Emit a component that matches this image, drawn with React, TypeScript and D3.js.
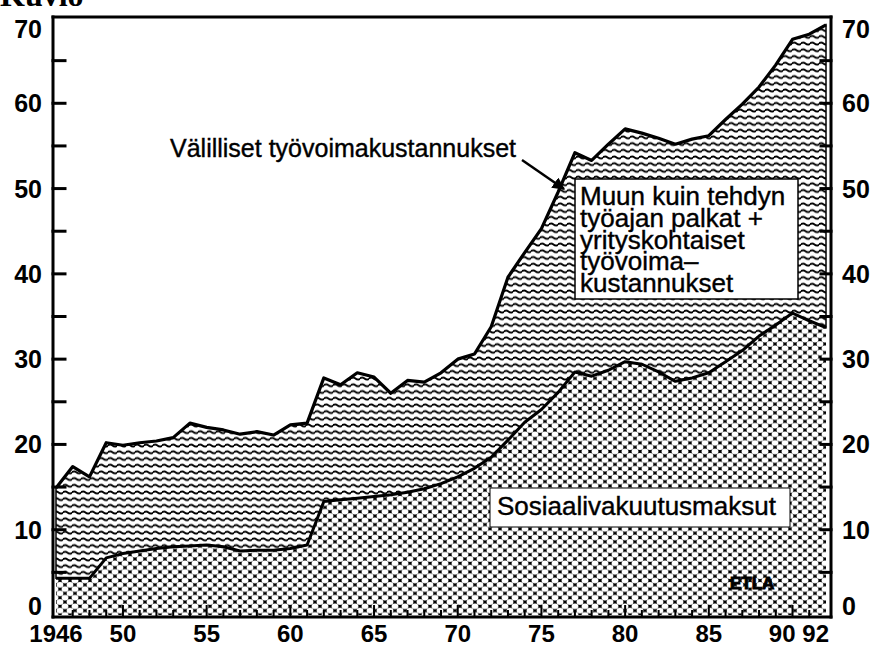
import { useEffect, useRef } from 'react';
import * as d3 from 'd3';

// Years on the x axis
const years = [
  1946, 1947, 1948, 1949, 1950, 1951, 1952, 1953, 1954, 1955,
  1956, 1957, 1958, 1959, 1960, 1961, 1962, 1963, 1964, 1965,
  1966, 1967, 1968, 1969, 1970, 1971, 1972, 1973, 1974, 1975,
  1976, 1977, 1978, 1979, 1980, 1981, 1982, 1983, 1984, 1985,
  1986, 1987, 1988, 1989, 1990, 1991, 1992,
];

// Upper edge: all indirect labour costs (% of wages for hours worked)
const totalIndirect = [
  14.9, 17.4, 16.2, 20.2, 19.9, 20.2, 20.4, 20.8, 22.5, 22.0,
  21.7, 21.2, 21.5, 21.1, 22.3, 22.5, 27.8, 27.0, 28.4, 27.9,
  26.0, 27.5, 27.3, 28.4, 30.0, 30.6, 33.8, 39.6, 42.5, 45.3,
  49.6, 54.2, 53.3, 55.2, 57.0, 56.5, 55.9, 55.2, 55.8, 56.2,
  58.1, 59.9, 61.9, 64.5, 67.5, 68.1, 69.2,
];

// Lower band: social insurance contributions
const socialContrib = [
  4.3, 4.3, 4.3, 6.7, 7.2, 7.5, 7.8, 8.0, 8.1, 8.2,
  8.0, 7.5, 7.6, 7.6, 7.8, 8.2, 13.3, 13.5, 13.7, 13.9,
  14.1, 14.4, 14.8, 15.4, 16.2, 17.2, 18.5, 20.5, 22.6, 24.1,
  26.1, 28.5, 28.0, 28.7, 29.7, 29.4, 28.5, 27.4, 27.8, 28.4,
  29.7, 31.0, 32.7, 34.0, 35.4, 34.5, 33.7,
];

const yLabels = [0, 10, 20, 30, 40, 50, 60, 70];
const xLabelYears = [1946, 1950, 1955, 1960, 1965, 1970, 1975, 1980, 1985, 1990, 1992];
const xLabelTexts = ['1946', '50', '55', '60', '65', '70', '75', '80', '85', '90', '92'];

const upperLabel = 'Välilliset työvoimakustannukset';
const boxLines = ['Muun kuin tehdyn', 'työajan palkat +', 'yrityskohtaiset', 'työvoima–', 'kustannukset'];
const lowerLabel = 'Sosiaalivakuutusmaksut';

const FONT = '"Liberation Sans", Arial, sans-serif';

export default function App() {
  const svgRef = useRef<SVGSVGElement>(null);

  useEffect(() => {
    if (!svgRef.current) return;
    const svg = d3.select(svgRef.current);
    svg.selectAll('*').remove();

    const width = 874;
    const height = 646;
    svg.attr('width', width).attr('height', height).attr('viewBox', `0 0 ${width} ${height}`);

    const frame = { left: 53, right: 831, top: 17, bottom: 617 };

    const x = d3.scaleLinear().domain([1946, 1992]).range([56, 826]);
    const y = d3.scaleLinear().domain([0, 70]).range([615, 18]);

    svg.append('rect').attr('width', width).attr('height', height).attr('fill', '#fff');

    // Patterns
    const defs = svg.append('defs');
    const wave = defs.append('pattern')
      .attr('id', 'wave')
      .attr('patternUnits', 'userSpaceOnUse')
      .attr('width', 9)
      .attr('height', 6.7);
    wave.append('rect').attr('width', 9).attr('height', 6.7).attr('fill', '#fff');
    wave.append('path')
      .attr('d', 'M-0.5 3.35 Q2.25 1.3 4.5 3.35 T9.5 3.35')
      .attr('fill', 'none')
      .attr('stroke', '#000')
      .attr('stroke-width', 1.8);

    const hatch = defs.append('pattern')
      .attr('id', 'hatch')
      .attr('patternUnits', 'userSpaceOnUse')
      .attr('width', 10)
      .attr('height', 8.6);
    hatch.append('rect').attr('width', 10).attr('height', 8.6).attr('fill', '#000');
    [[0, 0], [10, 0], [0, 8.6], [10, 8.6], [5, 4.3]].forEach(([cx, cy]) => {
      hatch.append('ellipse')
        .attr('cx', cx).attr('cy', cy)
        .attr('rx', 3.4).attr('ry', 2.8)
        .attr('fill', '#fff');
    });

    const rows = years.map((yr, i) => ({ year: yr, total: totalIndirect[i], social: socialContrib[i] }));

    // Upper band (wavy)
    const upperArea = d3.area<any>()
      .x(d => x(d.year))
      .y0(d => y(d.social))
      .y1(d => y(d.total));

    svg.append('path')
      .datum(rows)
      .attr('d', upperArea)
      .attr('fill', 'url(#wave)')
      .attr('stroke', '#000')
      .attr('stroke-width', 1.5);

    // Lower band (cross-hatched)
    const lowerArea = d3.area<any>()
      .x(d => x(d.year))
      .y0(y(0))
      .y1(d => y(d.social));

    svg.append('path')
      .datum(rows)
      .attr('d', lowerArea)
      .attr('fill', 'url(#hatch)');

    // Edge lines
    const topLine = d3.line<any>().x(d => x(d.year)).y(d => y(d.total));
    const midLine = d3.line<any>().x(d => x(d.year)).y(d => y(d.social));

    svg.append('path')
      .datum(rows)
      .attr('d', topLine)
      .attr('fill', 'none')
      .attr('stroke', '#000')
      .attr('stroke-width', 3.2)
      .attr('stroke-linejoin', 'round');

    svg.append('path')
      .datum(rows)
      .attr('d', midLine)
      .attr('fill', 'none')
      .attr('stroke', '#000')
      .attr('stroke-width', 3)
      .attr('stroke-linejoin', 'round');

    // Frame
    const frameG = svg.append('g').attr('stroke', '#000').attr('stroke-width', 3).attr('stroke-linecap', 'square');
    frameG.append('line').attr('x1', frame.left).attr('x2', frame.left).attr('y1', frame.top).attr('y2', frame.bottom);
    frameG.append('line').attr('x1', frame.right).attr('x2', frame.right).attr('y1', frame.top).attr('y2', frame.bottom);
    frameG.append('line').attr('x1', frame.left).attr('x2', frame.right).attr('y1', frame.top).attr('y2', frame.top);
    frameG.append('line').attr('x1', frame.left).attr('x2', frame.right).attr('y1', frame.bottom).attr('y2', frame.bottom);

    // Y ticks (inward, every 5)
    const yTickVals = d3.range(5, 70, 5);
    yTickVals.forEach(v => {
      frameG.append('line').attr('x1', frame.left).attr('x2', frame.left + 12).attr('y1', y(v)).attr('y2', y(v));
      frameG.append('line').attr('x1', frame.right).attr('x2', frame.right - 10).attr('y1', y(v)).attr('y2', y(v));
    });

    // X ticks (inward, every year)
    years.slice(1, -1).forEach(yr => {
      const len = yr % 5 === 0 ? 11 : 6;
      frameG.append('line')
        .attr('x1', x(yr)).attr('x2', x(yr))
        .attr('y1', frame.bottom).attr('y2', frame.bottom - len)
        .attr('stroke-width', 2);
    });

    // Y labels
    const labelY = (v: number) => {
      if (v === 70) return 38;
      if (v === 0) return 615;
      return y(v) + 9;
    };
    yLabels.forEach(v => {
      svg.append('text')
        .attr('x', 42).attr('y', labelY(v))
        .attr('text-anchor', 'end')
        .style('font-family', FONT).style('font-size', '25px').style('font-weight', 'bold')
        .text(v);
      svg.append('text')
        .attr('x', 842).attr('y', labelY(v))
        .attr('text-anchor', 'start')
        .style('font-family', FONT).style('font-size', '25px').style('font-weight', 'bold')
        .text(v);
    });

    // X labels
    xLabelYears.forEach((yr, i) => {
      const squeezed = yr >= 1990;
      svg.append('text')
        .attr('x', squeezed ? x(yr) + 3 : x(yr))
        .attr('y', 642)
        .attr('text-anchor', squeezed ? 'end' : 'middle')
        .style('font-family', FONT).style('font-size', '24px').style('font-weight', 'bold')
        .text(xLabelTexts[i]);
    });

    // Cut-off caption at the very top
    svg.append('text')
      .attr('x', 0).attr('y', 6)
      .style('font-family', '"Liberation Serif", "DejaVu Serif", serif')
      .style('font-size', '32px').style('font-weight', 'bold')
      .text('Kuvio');

    // Upper annotation with arrow
    svg.append('text')
      .attr('x', 170).attr('y', 157)
      .style('font-family', FONT).style('font-size', '25px')
      .attr('stroke', '#000').attr('stroke-width', 0.4)
      .text(upperLabel);

    defs.append('marker')
      .attr('id', 'arrowhead')
      .attr('viewBox', '0 0 10 10')
      .attr('refX', 9).attr('refY', 5)
      .attr('markerWidth', 5).attr('markerHeight', 5)
      .attr('orient', 'auto')
      .append('path')
      .attr('d', 'M0 0 L10 5 L0 10 Z')
      .attr('fill', '#000');

    svg.append('line')
      .attr('x1', 522).attr('y1', 160)
      .attr('x2', 564).attr('y2', 189)
      .attr('stroke', '#000').attr('stroke-width', 2.5)
      .attr('marker-end', 'url(#arrowhead)');

    // Box: other wage costs
    svg.append('rect')
      .attr('x', 575).attr('y', 179).attr('width', 223).attr('height', 120)
      .attr('fill', '#fff').attr('stroke', '#000').attr('stroke-width', 1.5);
    const boxText = svg.append('text')
      .style('font-family', FONT).style('font-size', '26px')
      .attr('stroke', '#000').attr('stroke-width', 0.4);
    boxLines.forEach((line, i) => {
      boxText.append('tspan')
        .attr('x', 580)
        .attr('y', 205 + i * 21.8)
        .text(line);
    });

    // Box: social insurance contributions
    svg.append('rect')
      .attr('x', 490).attr('y', 488).attr('width', 300).attr('height', 39)
      .attr('fill', '#fff').attr('stroke', '#000').attr('stroke-width', 1);
    svg.append('text')
      .attr('x', 497).attr('y', 515)
      .style('font-family', FONT).style('font-size', '26px')
      .attr('stroke', '#000').attr('stroke-width', 0.4)
      .text(lowerLabel);

    // Source logo
    svg.append('text')
      .attr('x', 730).attr('y', 589)
      .style('font-family', FONT).style('font-size', '17px').style('font-weight', 'bold')
      .attr('fill', '#000').attr('stroke', '#000').attr('stroke-width', 1)
      .text('ETLA');
  }, []);

  return (
    <div style={{ position: 'absolute', left: 0, top: 0 }}>
      <svg ref={svgRef} style={{ display: 'block' }} />
    </div>
  );
}
